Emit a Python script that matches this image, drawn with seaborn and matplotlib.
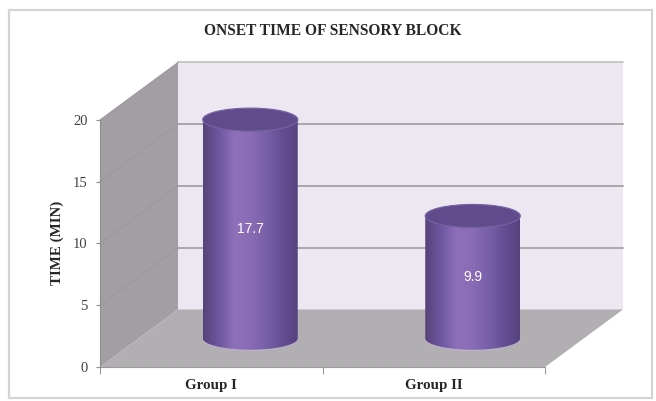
import numpy as np
import matplotlib
matplotlib.use("Agg")
import matplotlib.pyplot as plt
import seaborn as sns
from matplotlib.patches import Polygon, Ellipse, PathPatch, Rectangle
from matplotlib.path import Path
from matplotlib.colors import to_rgb

# ---- data ----
groups = ["Group I", "Group II"]
onset_time = [17.7, 9.9]
y_ticks = [0, 5, 10, 15, 20]
title = "ONSET TIME OF SENSORY BLOCK"
y_label = "TIME (MIN)"

sns.set_theme(style="white")
plt.rcParams["font.family"] = ["Liberation Serif", "DejaVu Serif"]

W, H = 656, 401
fig = plt.figure(figsize=(W / 100, H / 100), dpi=100)
fig.patch.set_facecolor("white")

# outer frame
fig.patches.append(Rectangle((9 / W, 1 - 398 / H), 643 / W, 388 / H,
                             transform=fig.transFigure, fill=False,
                             edgecolor="#d4d4d4", linewidth=1.6))

# front plane axes geometry (pixels)
L, B, AW, AH = 100, 401 - 367, 445, 247
DXP, DYP = 78, 57.5
ax = fig.add_axes([L / W, B / H, AW / W, AH / H])
ax.set_xlim(-0.5, 1.5)
ax.set_ylim(0, 20)
ax.patch.set_alpha(0)

ux = AW / 2.0
uy = AH / 20.0
DX = DXP / ux
DY = DYP / uy

x0, x1 = -0.5, 1.5
# back wall
ax.add_patch(Polygon([(x0 + DX, DY), (x1 + DX, DY), (x1 + DX, 20 + DY), (x0 + DX, 20 + DY)],
                     closed=True, facecolor="#ECE7F1", edgecolor="none", clip_on=False, zorder=0))
# side wall
ax.add_patch(Polygon([(x0, 0), (x0, 20), (x0 + DX, 20 + DY), (x0 + DX, DY)],
                     closed=True, facecolor="#A29EA4", edgecolor="none", clip_on=False, zorder=0.5))
# floor
ax.add_patch(Polygon([(x0, 0), (x1, 0), (x1 + DX, DY), (x0 + DX, DY)],
                     closed=True, facecolor="#B2AFB3", edgecolor="none", clip_on=False, zorder=0.6))
# gridlines
for v in y_ticks[1:]:
    col = "#A8A8A8" if v < 20 else "#C8C8C8"
    ax.plot([x0 + DX, x1 + DX], [v + DY, v + DY], color=col, lw=1.4, clip_on=False, zorder=0.3)
    ax.plot([x0, x0 + DX], [v, v + DY], color="#9C989E", lw=0.8, clip_on=False, zorder=0.55)

for s in ["top", "right"]:
    ax.spines[s].set_visible(False)
ax.spines["left"].set_color("#8E8E8E")
ax.spines["left"].set_linewidth(0.8)
ax.spines["bottom"].set_color("#9A9A9A")
ax.spines["bottom"].set_linewidth(0.8)

ax.set_yticks(y_ticks)
ax.set_yticklabels([str(t) for t in y_ticks])
ax.tick_params(axis="y", direction="out", length=3, width=0.8, color="#8E8E8E",
               pad=6, labelsize=10.5, labelcolor="#404040", left=True)
ax.set_xticks([0, 1])
ax.set_xticklabels(groups, fontweight="bold", fontsize=10.8, color="#262626")
ax.set_xticks([-0.5, 0.5, 1.5], minor=True)
ax.tick_params(axis="x", which="major", length=0, pad=9)
ax.tick_params(axis="x", which="minor", direction="out", length=5, width=0.8,
               color="#9A9A9A", bottom=True)
ax.set_xlabel("")
ax.set_ylabel("")

# bars axes (mid-depth plane)
axb = fig.add_axes([(L + DXP / 2) / W, (B + DYP / 2) / H, AW / W, AH / H])
axb.patch.set_alpha(0)
bar_w = 95 / ux
sns.barplot(x=groups, y=onset_time, ax=axb, width=bar_w, color="#7A5EA8",
            saturation=1, errorbar=None)
axb.set_xlim(-0.5, 1.5)
axb.set_ylim(0, 20)
axb.axis("off")

ery = 11.5 / uy
grad_cols = ["#574379", "#6E57A0", "#8E70BA", "#8A6CB6", "#7860A8", "#654F93", "#56427E"]
grad = np.array([to_rgb(c) for c in grad_cols])
n = 200
pos = np.linspace(0, 1, len(grad_cols))
xs = np.linspace(0, 1, n)
img = np.stack([np.interp(xs, pos, grad[:, k]) for k in range(3)], axis=-1)[None, :, :]

container = axb.containers[0]
for bar in container.patches:
    bx, bw, bh = bar.get_x(), bar.get_width(), bar.get_height()
    cx = bx + bw / 2
    bar.set_facecolor("none")
    bar.set_edgecolor("none")
    t = np.linspace(np.pi, 2 * np.pi, 60)
    arc = np.column_stack([cx + bw / 2 * np.cos(t), ery * np.sin(t)])
    verts = np.vstack([[bx, bh], [bx, 0], arc, [bx + bw, 0], [bx + bw, bh], [bx, bh]])
    path = Path(verts)
    # subtle light rim under the base
    axb.add_patch(Ellipse((cx, -0.08), bw * 1.005, 2 * ery, facecolor="#BDB2CF",
                          edgecolor="none", zorder=1.5, clip_on=False))
    pp = PathPatch(path, facecolor="none", edgecolor="none", transform=axb.transData)
    axb.add_patch(pp)
    im = axb.imshow(img, extent=(bx, bx + bw, -ery, bh), aspect="auto",
                    zorder=2, interpolation="bilinear")
    im.set_clip_box(fig.bbox)
    im.set_clip_path(pp)
    axb.add_patch(Ellipse((cx, bh), bw, 2 * ery, facecolor="#604B8C",
                          edgecolor="#7462A0", lw=0.9, zorder=3, clip_on=False))

axb.set_xlim(-0.5, 1.5)
axb.set_ylim(0, 20)
axb.bar_label(container, labels=[f"{v:.1f}" for v in onset_time], label_type="center",
              color="white", fontsize=10, family=["Liberation Sans", "DejaVu Sans"], zorder=5)

fig.text(333 / W, 1 - 31 / H, title, ha="center", va="center",
         fontsize=11.2, fontweight="bold", color="#262626")
fig.text(57 / W, 1 - 243 / H, y_label, ha="center", va="center", rotation=90,
         fontsize=10.8, fontweight="bold", color="#262626")

fig.savefig("out.png", dpi=100)
